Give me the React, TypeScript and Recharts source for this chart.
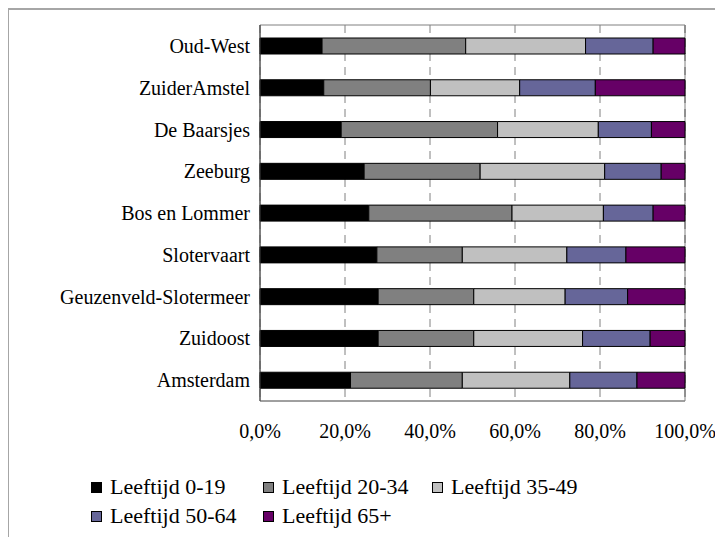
import React from 'react';
import { BarChart, Bar, XAxis, YAxis, CartesianGrid, ReferenceArea } from 'recharts';

// Districts, top to bottom as drawn
const districts = [
  'Oud-West',
  'ZuiderAmstel',
  'De Baarsjes',
  'Zeeburg',
  'Bos en Lommer',
  'Slotervaart',
  'Geuzenveld-Slotermeer',
  'Zuidoost',
  'Amsterdam',
];

// Share per age group (%), same order as districts
const age0to19 = [14.6, 15.0, 19.1, 24.5, 25.6, 27.5, 27.8, 27.8, 21.3];
const age20to34 = [33.8, 25.1, 36.8, 27.3, 33.7, 20.1, 22.5, 22.5, 26.3];
const age35to49 = [28.2, 21.0, 23.7, 29.3, 21.5, 24.6, 21.5, 25.6, 25.3];
const age50to64 = [15.9, 17.8, 12.5, 13.3, 11.7, 13.9, 14.7, 15.9, 15.8];
const age65plus = [7.5, 21.1, 7.9, 5.6, 7.5, 13.9, 13.5, 8.2, 11.3];

const xTicks = [0, 20, 40, 60, 80, 100];

const series = [
  { key: 'a', label: 'Leeftijd 0-19', color: '#000000', values: age0to19 },
  { key: 'b', label: 'Leeftijd 20-34', color: '#808080', values: age20to34 },
  { key: 'c', label: 'Leeftijd 35-49', color: '#C0C0C0', values: age35to49 },
  { key: 'd', label: 'Leeftijd 50-64', color: '#666699', values: age50to64 },
  { key: 'e', label: 'Leeftijd 65+', color: '#660066', values: age65plus },
];

const data = districts.map((name, i) => {
  const row: Record<string, string | number> = { name };
  series.forEach(s => {
    row[s.key] = s.values[i];
  });
  return row;
});

const FONT = 'Liberation Serif, Times New Roman, DejaVu Serif, serif';

const legendPos = [
  { left: 83, top: 468 },
  { left: 255, top: 468 },
  { left: 424, top: 468 },
  { left: 83, top: 497 },
  { left: 255, top: 497 },
];

export default function App() {
  return (
    <div style={{ position: 'relative', width: 715, height: 529, fontFamily: FONT }}>
      <div
        style={{
          position: 'absolute',
          left: -1,
          top: 0,
          width: 716,
          height: 529,
          borderTop: '2px solid #a6a6a6',
          borderLeft: '2px solid #a6a6a6',
          boxSizing: 'border-box',
          zIndex: 2,
          pointerEvents: 'none',
        }}
      />
      <div style={{ position: 'absolute', left: 0, top: 0 }}>
        <BarChart
          width={715}
          height={460}
          data={data}
          layout="vertical"
          margin={{ top: 17, right: 38, left: 12, bottom: 0 }}
          barSize={16}
        >
          <CartesianGrid horizontal={false} stroke="#808080" strokeDasharray="8 6" />
          <XAxis
            type="number"
            domain={[0, 100]}
            ticks={xTicks}
            tickFormatter={(v: number) => v.toFixed(1).replace('.', ',') + '%'}
            tickSize={0}
            tickMargin={23}
            height={67}
            axisLine={{ stroke: '#808080' }}
            tick={{ fontSize: 20, fill: '#000', fontFamily: FONT }}
          />
          <YAxis
            type="category"
            dataKey="name"
            width={240}
            tickSize={0}
            tickMargin={10}
            axisLine={{ stroke: '#404040' }}
            tick={{ fontSize: 20, fill: '#000', fontFamily: FONT }}
          />
          <ReferenceArea x1={0} x2={100} fill="none" stroke="#808080" strokeWidth={1} />
          {series.map(s => (
            <Bar
              key={s.key}
              dataKey={s.key}
              name={s.label}
              stackId="age"
              fill={s.color}
              stroke="#000"
              strokeWidth={1}
              isAnimationActive={false}
            />
          ))}
        </BarChart>
      </div>
      {series.map((s, i) => (
        <div
          key={s.key}
          style={{
            position: 'absolute',
            left: legendPos[i].left,
            top: legendPos[i].top,
            display: 'flex',
            alignItems: 'center',
            fontSize: 22,
            lineHeight: '22px',
            whiteSpace: 'nowrap',
          }}
        >
          <span
            style={{
              display: 'inline-block',
              width: 9,
              height: 9,
              background: s.color,
              border: '1px solid #000',
              marginRight: 8,
            }}
          />
          {s.label}
        </div>
      ))}
    </div>
  );
}
